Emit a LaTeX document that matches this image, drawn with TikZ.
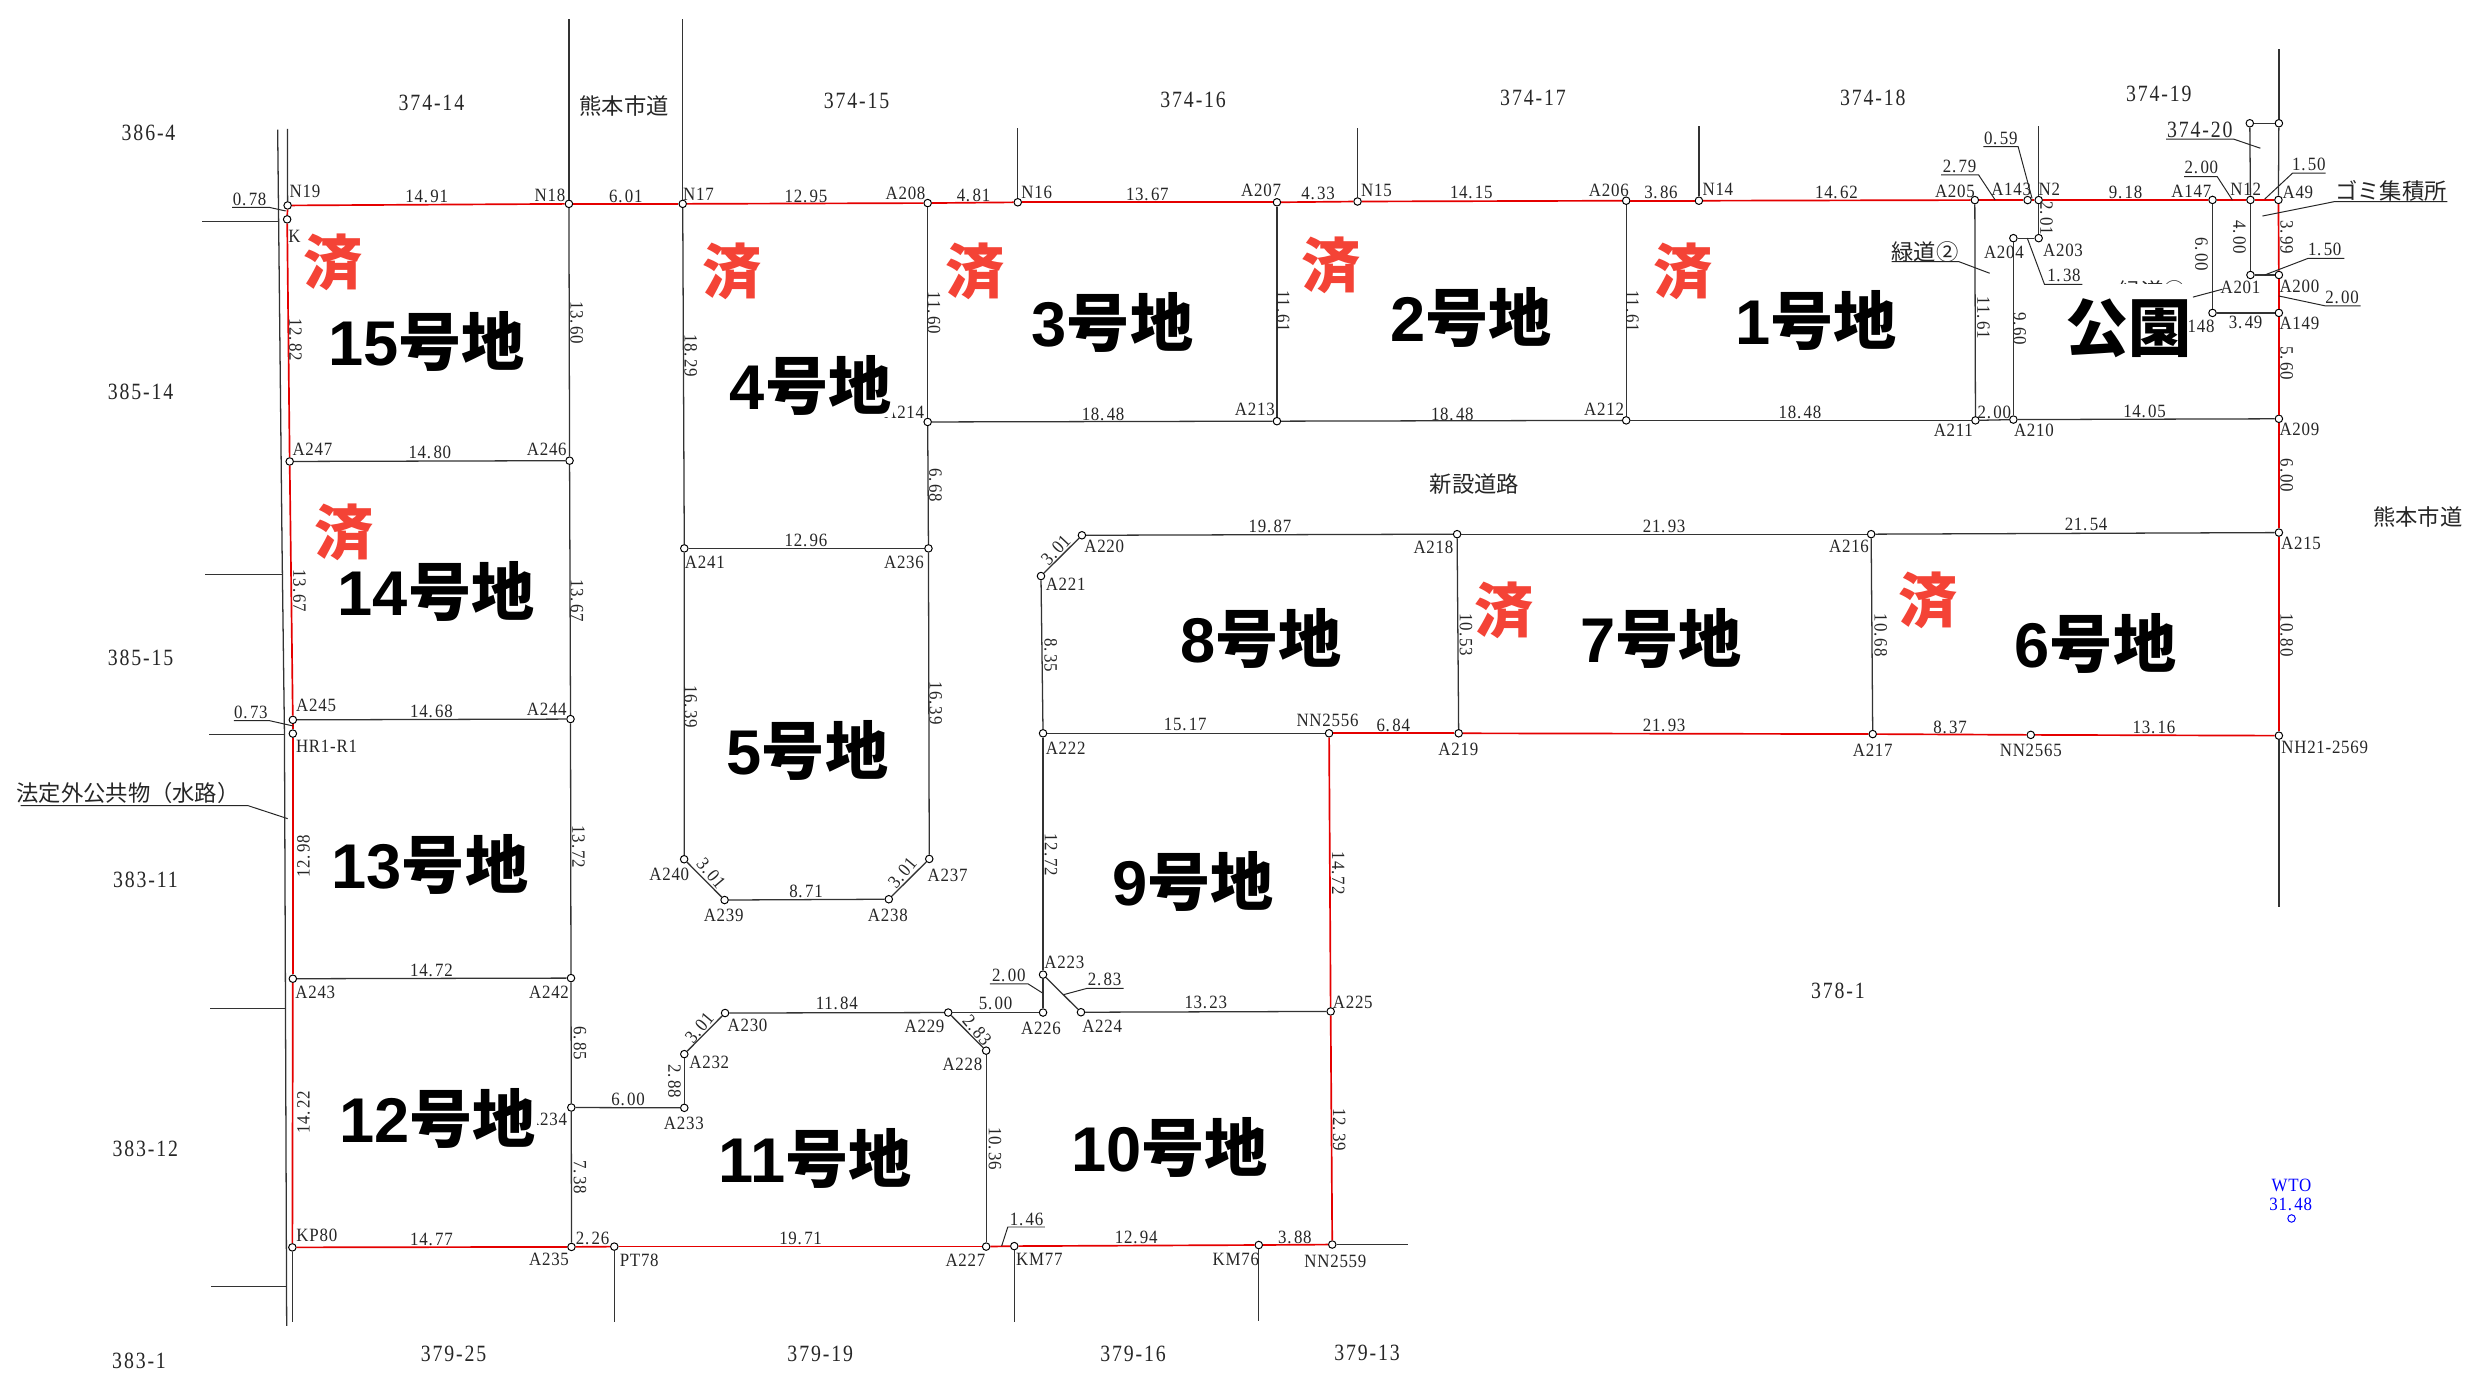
\documentclass[tikz,border=0pt]{standalone}
\usepackage{fontspec}
\setmainfont{Liberation Serif}
\newfontfamily\labf[FakeStretch=0.9,LetterSpace=4]{Liberation Serif}
\newfontfamily\parf[FakeStretch=0.85,LetterSpace=8]{Liberation Serif}
\newfontfamily\jpf{Noto Sans CJK JP}
\newfontfamily\digf{Liberation Sans}
\newcounter{txtc}
\definecolor{sumi}{HTML}{F44336}
\tikzset{
 pt/.style={circle,draw=black,fill=white,line width=0.5pt,inner sep=0pt,minimum size=3.8pt},
 bl/.style={draw=black!80,line width=0.65pt},
 rd/.style={draw=red!90!black,line width=0.85pt},
 lead/.style={draw=black!85,line width=0.5pt},
 num/.style={inner sep=0pt,font=\labf\fontsize{9.5}{9.5}\selectfont,text=black!85},
 parc/.style={inner sep=0pt,font=\parf\fontsize{11.8}{11.8}\selectfont,text=black!85},
 jp/.style={inner sep=0pt,font=\jpf\fontsize{11.3}{11.3}\selectfont,text=black!85},
 lot/.style={inner sep=0.5pt,font=\fontsize{32}{32}\selectfont},
 done/.style={inner sep=0pt,font=\jpf\bfseries\fontsize{30}{30}\selectfont,text=sumi},
}
\def\splitdot#1.#2\relax{#1.\kern1.2pt #2}
\newcommand{\Tx}[4][]{\stepcounter{txtc}\node[num,#1] (t\arabic{txtc}) at (#2,#3) {#4};}
\newcommand{\Dm}[4][]{\stepcounter{txtc}\node[num,#1] (t\arabic{txtc}) at (#2,#3) {\splitdot#4\relax};}
\newcommand{\Prc}[4][]{\stepcounter{txtc}\node[parc,#1] (t\arabic{txtc}) at (#2,#3) {#4};}
\newcommand{\Jp}[4][]{\stepcounter{txtc}\node[jp,#1] (t\arabic{txtc}) at (#2,#3) {#4};}
\newcommand{\Lot}[4][]{\stepcounter{txtc}\node[lot,#1] (t\arabic{txtc}) at (#2,#3) {{\digf\bfseries #4}{\jpf\bfseries 号地}};}
\newcommand{\Sumi}[2]{\stepcounter{txtc}\node[done] (t\arabic{txtc}) at (#1,#2) {済};}
\newcommand{\Pt}[3]{\node[pt] (#1) at (#2,#3) {};}
\begin{document}
\begin{tikzpicture}[x=0.8pt,y=-0.8pt]
\path[use as bounding box,fill=white] (0,0) rectangle (1568,874.5);
% points
\Pt{N19}{182}{130}\Pt{K}{181.7}{138.8}\Pt{N18}{360}{129}\Pt{N17}{432}{129}\Pt{A208}{587}{128.5}
\Pt{N16}{644}{128}\Pt{A207}{808}{128}\Pt{N15}{859}{127.5}\Pt{A206}{1029}{127}\Pt{N14}{1075}{127}
\Pt{A205}{1249.6}{126.6}\Pt{A143}{1283}{126.6}\Pt{N2}{1290}{126.6}\Pt{A147}{1400}{126.5}\Pt{N12}{1424}{126.5}\Pt{A49}{1441.7}{126.5}
\Pt{A204}{1274}{150.7}\Pt{A203}{1290}{150.7}\Pt{A201}{1424}{174}\Pt{A200}{1442}{174}\Pt{A148}{1400}{198}\Pt{A149}{1442}{198}
\Pt{A209}{1442}{265}\Pt{A210}{1274}{265.5}\Pt{A211}{1250}{266}\Pt{A212}{1029}{266}\Pt{A213}{808}{266.5}\Pt{A214}{587}{267}
\Pt{Ua}{1423.6}{78}\Pt{Ub}{1442}{78}
\Pt{A215}{1442}{337}\Pt{A216}{1184}{338}\Pt{A218}{922}{338}\Pt{A220}{684.6}{338.7}\Pt{A221}{658.7}{364.5}
\Pt{A222}{660}{464}\Pt{NNa}{841}{464}\Pt{A219}{923}{464}\Pt{A217}{1185}{464.5}\Pt{NNb}{1285}{465}\Pt{NH}{1442}{465.5}
\Pt{A246}{360.4}{291.5}\Pt{A247}{183.3}{292}\Pt{A245}{185.3}{455.5}\Pt{HR}{185.3}{464.2}\Pt{A244}{361}{455}
\Pt{A243}{185.3}{619.3}\Pt{A242}{361.3}{618.9}\Pt{A234}{361.5}{700.8}\Pt{A235}{361.6}{789}\Pt{KP}{185}{789.3}\Pt{PT}{388.7}{788.8}
\Pt{A241}{433}{347}\Pt{A236}{587.5}{347}\Pt{A240}{432.9}{543.7}\Pt{A239}{458.5}{569.5}\Pt{A238}{562.4}{569}\Pt{A237}{588}{543.5}
\Pt{A223}{660}{616.7}\Pt{A226}{660}{640.7}\Pt{A224}{684}{640.5}\Pt{A225}{842}{640}\Pt{A229}{600}{640.7}\Pt{A230}{458.8}{641}
\Pt{A232}{433}{667}\Pt{A233}{433}{701}\Pt{A228}{624}{664.8}\Pt{A227}{624}{788.8}\Pt{KMa}{641.8}{788.5}\Pt{KMb}{796.5}{787.8}\Pt{NNc}{843}{787.5}
% free ends
\coordinate (eN18) at (360,12);\coordinate (eN17) at (432,12);\coordinate (eN16) at (644,81);\coordinate (eN15) at (859,81);
\coordinate (eN14) at (1075,80);\coordinate (eN2) at (1290,80);\coordinate (eUb) at (1442,31);\coordinate (eNH) at (1442,574);
\coordinate (eNNc) at (891,787.5);\coordinate (eKMa) at (641.8,836.6);\coordinate (eKMb) at (796.5,836);\coordinate (ePT) at (388.7,836.4);\coordinate (eKP) at (185,836.8);\coordinate (eN19) at (181.9,81.6);
\coordinate (d1) at (175.7,82);\coordinate (d2) at (178.5,348);\coordinate (d3) at (180,465);\coordinate (d4) at (181.4,839);
\coordinate (tKa) at (128,140.3);\coordinate (tKb) at (176,140.3);\coordinate (tAa) at (130,363.5);\coordinate (tAb) at (178.8,363.5);
\coordinate (tBa) at (132.4,464.8);\coordinate (tBb) at (180,464.8);\coordinate (tCa) at (133,638.2);\coordinate (tCb) at (180.5,638.2);\coordinate (tDa) at (133.7,813.9);\coordinate (tDb) at (181,813.9);
% black lines
\draw[bl] (d1)--(d2)--(d3)--(d4);
\draw[bl] (tKa)--(tKb); \draw[bl] (tAa)--(tAb); \draw[bl] (tBa)--(tBb); \draw[bl] (tCa)--(tCb); \draw[bl] (tDa)--(tDb);
\draw[bl] (N19)--(eN19); \draw[bl] (KP)--(eKP);
\draw[bl] (N18)--(eN18); \draw[bl] (N17)--(eN17); \draw[bl] (N16)--(eN16); \draw[bl] (N15)--(eN15); \draw[bl] (N14)--(eN14); \draw[bl] (N2)--(eN2);
\draw[bl] (A49)--(Ub); \draw[bl] (Ub)--(eUb); \draw[bl] (Ua)--(Ub); \draw[bl] (Ua)--(N12); \draw[bl] (N12)--(A201); \draw[bl] (A201)--(A200);
\draw[bl] (A147)--(A148); \draw[bl] (A148)--(A149); \draw[bl] (N2)--(A203); \draw[bl] (A203)--(A204); \draw[bl] (A204)--(A210); \draw[bl] (A205)--(A211);
\draw[bl] (A206)--(A212); \draw[bl] (A207)--(A213); \draw[bl] (A208)--(A214); \draw[bl] (A214)--(A236); \draw[bl] (A236)--(A237); \draw[bl] (A237)--(A238); \draw[bl] (A238)--(A239); \draw[bl] (A239)--(A240); \draw[bl] (A240)--(A241); \draw[bl] (A241)--(N17); \draw[bl] (A241)--(A236);
\draw[bl] (A214)--(A213); \draw[bl] (A213)--(A212); \draw[bl] (A212)--(A211); \draw[bl] (A211)--(A210); \draw[bl] (A210)--(A209);
\draw[bl] (N18)--(A246); \draw[bl] (A246)--(A244); \draw[bl] (A244)--(A242); \draw[bl] (A242)--(A234); \draw[bl] (A234)--(A235);
\draw[bl] (A247)--(A246); \draw[bl] (A245)--(A244); \draw[bl] (A243)--(A242);
\draw[bl] (A234)--(A233); \draw[bl] (A233)--(A232); \draw[bl] (A232)--(A230); \draw[bl] (A230)--(A229); \draw[bl] (A229)--(A226); \draw[bl] (A229)--(A228); \draw[bl] (A228)--(A227);
\draw[bl] (A226)--(A223); \draw[bl] (A223)--(A222); \draw[bl] (A223)--(A224); \draw[bl] (A224)--(A225); \draw[bl] (A222)--(A221); \draw[bl] (A221)--(A220); \draw[bl] (A220)--(A218); \draw[bl] (A218)--(A216); \draw[bl] (A216)--(A215);
\draw[bl] (A218)--(A219); \draw[bl] (A216)--(A217); \draw[bl] (A222)--(NNa);
\draw[bl] (NH)--(eNH); \draw[bl] (NNc)--(eNNc); \draw[bl] (KMa)--(eKMa); \draw[bl] (KMb)--(eKMb); \draw[bl] (PT)--(ePT);
% red lines
\foreach \a/\b in {N19/N18,N18/N17,N17/A208,A208/N16,N16/A207,A207/N15,N15/A206,A206/N14,N14/A205,A205/A143,A143/N2,N2/A147,A147/N12,N12/A49,
 N19/K,K/A247,A247/A245,A245/HR,HR/A243,A243/KP,KP/A235,A235/PT,PT/A227,A227/KMa,KMa/KMb,KMb/NNc,NNc/A225,A225/NNa,NNa/A219,A219/A217,A217/NNb,NNb/NH,NH/A215,A215/A209,A209/A149,A149/A200,A200/A49}
 {\draw[rd] (\a)--(\b);}
% leaders
\draw[lead] (146.9,131.2)--(170.3,131.2)--(180.8,133.5);
\draw[lead] (148,456)--(170.5,456)--(185.6,459.4);
\draw[lead] (13,509.8)--(157,509.8)--(182,518);
\draw[lead] (1255,92.8)--(1277,92.8)--(1285.8,125.5);
\draw[lead] (1228.3,110.7)--(1252,110.7)--(1262.5,126.6);
\draw[lead] (1382,111.8)--(1403,111.8)--(1412.6,126.6);
\draw[lead] (1370.6,88)--(1413.3,88)--(1430.3,93.8);
\draw[lead] (1471.6,109.6)--(1450.6,109.6)--(1433,126);
\draw[lead] (1548.6,127.6)--(1477,127.6)--(1431.6,136.7);
\draw[lead] (1483.4,163.5)--(1460.4,163.5)--(1433,174);
\draw[lead] (1442,187.3)--(1471.6,193.6)--(1493.7,193.6);
\draw[lead] (1197,165.6)--(1239.6,165.6)--(1259,172.9);
\draw[lead] (1282.8,150.7)--(1293.7,180)--(1317.7,180);
\draw[lead] (1387.6,188)--(1406.3,183);
\draw[lead] (673.3,629.3)--(687.8,625.4)--(711,625.4);
\draw[lead] (626.4,622.6)--(650.6,622.6)--(659.6,628.3);
\draw[lead] (661.2,776.4)--(637.7,776.4)--(633.8,788.5);
% dimensions, horizontal
\Dm{270}{124}{14.91}\Dm{396}{124}{6.01}\Dm{510}{124}{12.95}\Dm{616}{123.5}{4.81}\Dm{726}{123}{13.67}\Dm{834}{122.5}{4.33}\Dm{931}{122}{14.15}\Dm{1051}{121.5}{3.86}\Dm{1162}{121.5}{14.62}\Dm{1345}{121.7}{9.18}
\Dm{158}{126}{0.78}\Dm{1266}{87.5}{0.59}\Dm{1240}{105}{2.79}\Dm{1393}{106}{2.00}\Dm{1461}{104}{1.50}\Dm{1471}{158}{1.50}\Dm{1482}{188}{2.00}\Dm{1306}{174}{1.38}\Dm{1421}{204}{3.49}\Dm{1262}{261}{2.00}\Dm{1357}{260}{14.05}
\Dm{272}{286.5}{14.80}\Dm{273}{450}{14.68}\Dm{273}{614}{14.72}\Dm{273}{784}{14.77}\Dm{397.4}{695.4}{6.00}\Dm{158.8}{451}{0.73}\Dm{375}{783.5}{2.26}
\Dm{510}{342}{12.96}\Dm{510}{563.8}{8.71}\Dm{638.3}{617}{2.00}\Dm{699}{620}{2.83}\Dm{630}{635}{5.00}\Dm{529.5}{635}{11.84}\Dm{763}{634}{13.23}\Dm{506.6}{783.7}{19.71}\Dm{649.6}{771.6}{1.46}\Dm{719}{782.7}{12.94}\Dm{819.4}{782.7}{3.88}
\Dm{803.6}{333}{19.87}\Dm{750}{458.7}{15.17}\Dm{881.6}{458.7}{6.84}\Dm{1053}{333}{21.93}\Dm{1320}{332}{21.54}\Dm{1053}{459}{21.93}\Dm{1234}{460}{8.37}\Dm{1363}{460}{13.16}
\Dm{698}{262}{18.48}\Dm{919}{262}{18.48}\Dm{1139}{261}{18.48}
% dimensions, vertical
\Dm[rotate=-90]{1295}{138}{2.01}\Dm[rotate=-90]{1447}{150}{3.99}\Dm[rotate=-90]{1447}{230}{5.60}\Dm[rotate=-90]{1447}{301}{6.00}\Dm[rotate=-90]{1447}{402}{10.80}\Dm[rotate=-90]{1417}{150}{4.00}\Dm[rotate=-90]{1393}{161}{6.00}\Dm[rotate=-90]{1278}{208}{9.60}\Dm[rotate=-90]{1255}{201}{11.61}
\Dm[rotate=-90]{591}{198}{11.60}\Dm[rotate=-90]{812}{197}{11.61}\Dm[rotate=-90]{1033}{197}{11.61}\Dm[rotate=-90]{437}{225}{18.29}\Dm[rotate=-90]{365}{204}{13.60}\Dm[rotate=-90]{187}{215}{12.82}\Dm[rotate=-90]{592}{307}{6.68}\Dm[rotate=-90]{437}{447}{16.39}\Dm[rotate=-90]{592}{445}{16.39}
\Dm[rotate=-90]{189.5}{374}{13.67}\Dm[rotate=-90]{365}{380}{13.67}\Dm[rotate=-90]{366}{536}{13.72}\Dm[rotate=90]{192}{542}{12.98}\Dm[rotate=90]{192}{704}{14.22}\Dm[rotate=-90]{367}{660}{6.85}\Dm[rotate=-90]{367}{745}{7.38}\Dm[rotate=-90]{426.8}{684}{2.88}
\Dm[rotate=-90]{846.8}{552.5}{14.72}\Dm[rotate=-90]{847.4}{714.6}{12.39}\Dm[rotate=-90]{629.6}{727}{10.36}\Dm[rotate=-90]{665}{541}{12.72}\Dm[rotate=-90]{664.8}{414.5}{8.35}\Dm[rotate=-90]{927.6}{401.8}{10.53}\Dm[rotate=-90]{1190}{402}{10.68}
\Dm[rotate=-50]{450}{552.5}{3.01}\Dm[rotate=50]{571}{552.5}{3.01}\Dm[rotate=50]{442.5}{650.6}{3.01}\Dm[rotate=47]{668}{348}{3.01}\Dm[rotate=-50]{618.3}{651.7}{2.83}
% point labels
\Tx{193}{121.3}{N19}\Tx{348}{123.4}{N18}\Tx{442}{123}{N17}\Tx{573}{122.5}{A208}\Tx{656}{122}{N16}\Tx{798}{120.5}{A207}\Tx{871}{120.5}{N15}\Tx{1018}{120.5}{A206}\Tx{1087}{120}{N14}\Tx{1237}{121}{A205}\Tx{1272.6}{120}{A143}\Tx{1296.8}{120}{N2}\Tx{1386.6}{121.3}{A147}\Tx{1421}{120}{N12}\Tx{1454}{122}{A49}
\Tx{186.4}{149.3}{K}\Tx{197.7}{284}{A247}\Tx{346}{284.6}{A246}\Tx{200}{446.4}{A245}\Tx{346}{448.6}{A244}\Tx{206.6}{472.2}{HR1-R1}\Tx{199.5}{627.8}{A243}\Tx{347.4}{627.8}{A242}\Tx[anchor=east]{359}{708.4}{A234}\Tx{200.5}{781.5}{KP80}\Tx{347.4}{796.8}{A235}\Tx{404.5}{797.3}{PT78}
\Tx{423.5}{553.4}{A240}\Tx{457.9}{579}{A239}\Tx{561.8}{579}{A238}\Tx{599.6}{553.7}{A237}\Tx{673.5}{608.7}{A223}\Tx{658.7}{650.6}{A226}\Tx{697.4}{649.7}{A224}\Tx{856}{634}{A225}\Tx{585}{649.2}{A229}\Tx{473}{648.7}{A230}\Tx{448.8}{672}{A232}\Tx{432.7}{710.6}{A233}\Tx{609}{673.5}{A228}\Tx{610.9}{797.3}{A227}\Tx{657.7}{796.6}{KM77}\Tx{782}{796.6}{KM76}\Tx{845}{798}{NN2559}
\Tx{698.7}{346}{A220}\Tx{674.3}{370}{A221}\Tx{907}{346.6}{A218}\Tx{674.3}{473.4}{A222}\Tx{840}{456}{NN2556}\Tx{922.8}{474}{A219}\Tx{1170}{346}{A216}\Tx{1456}{344}{A215}\Tx{1185}{475}{A217}\Tx{1285}{475}{NN2565}\Tx{1471}{473}{NH21-2569}
\Tx[anchor=east]{585}{261}{A214}\Tx{794}{259}{A213}\Tx{1015}{259}{A212}\Tx{1236}{272}{A211}\Tx{1287}{272}{A210}\Tx{1455}{271.5}{A209}\Tx{1268}{159.6}{A204}\Tx{1305.4}{158.6}{A203}\Tx{1417.7}{182}{A201}\Tx{1455}{181}{A200}\Tx{1455}{204.6}{A149}\Tx[anchor=east]{1401.5}{206.3}{A148}
\Tx{446}{356}{A241}\Tx{572}{356}{A236}
% parcels
\Prc{273}{65}{374-14}\Prc{542}{64}{374-15}\Prc{755}{63}{374-16}\Prc{970}{62}{374-17}\Prc{1185}{62}{374-18}\Prc{1366}{59.5}{374-19}\Prc{1392}{82}{374-20}
\Prc{94}{84}{386-4}\Prc{89}{248}{385-14}\Prc{89}{416}{385-15}\Prc{92}{557}{383-11}\Prc{92}{727}{383-12}\Prc{88}{861}{383-1}\Prc{287}{857}{379-25}\Prc{519}{857}{379-19}\Prc{717}{857}{379-16}\Prc{865}{856}{379-13}\Prc{1163}{627}{378-1}
\Jp{395}{67}{熊本市道}\Jp{1530}{327}{熊本市道}\Jp{933}{306}{新設道路}\Jp{1513}{120.5}{ゴミ集積所}\Jp{81}{502}{法定外公共物（水路）}\Jp{1218}{159.5}{緑道②}\Jp{1362}{184}{緑道①}
\stepcounter{txtc}\node[num,text=blue] (t\arabic{txtc}) at (1450,750) {WTO};
\stepcounter{txtc}\node[num,text=blue] (t\arabic{txtc}) at (1449.5,762) {\splitdot 31.48\relax};
\node[circle,draw=blue,inner sep=0pt,minimum size=3.8pt,line width=0.5pt] (wto) at (1450,771) {};
% lots
\Lot{270}{216}{15}\Lot{276}{374}{14}\Lot{272}{547}{13}\Lot[fill=white]{277}{708}{12}\Lot{516}{733}{11}\Lot{740}{726}{10}\Lot{755}{558}{9}\Lot{798}{404}{8}\Lot{1051}{404}{7}\Lot{1326}{407}{6}\Lot{511}{475}{5}\Lot[fill=white]{513}{244}{4}\Lot{704}{204}{3}\Lot{931}{201}{2}\Lot{1149}{203}{1}
\fill[white] (1330,179.5) rectangle (1384,235);
\stepcounter{txtc}\node[lot,font=\jpf\bfseries\fontsize{32}{32}\selectfont] (t\arabic{txtc}) at (1347,208) {公園};
\Sumi{211}{166}\Sumi{463}{172}\Sumi{617}{172}\Sumi{842}{168}\Sumi{1065}{172}\Sumi{218}{337}\Sumi{952}{386}\Sumi{1220}{380}
\end{tikzpicture}
\end{document}
